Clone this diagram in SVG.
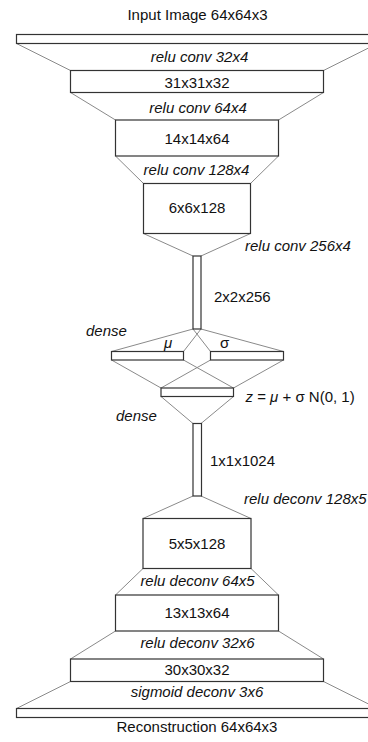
<svg xmlns="http://www.w3.org/2000/svg" width="368" height="742" viewBox="0 0 368 742">
<style>
  .box { fill: #ffffff; stroke: #333333; stroke-width: 1.2; }
  .conn { stroke: #8a8a8a; stroke-width: 1; fill: none; }
  text { font-family: "Liberation Sans", Arial, Helvetica, sans-serif; font-size: 15px; fill: #111111; }
  .c { text-anchor: middle; }
  .i { font-style: italic; }
</style>
<rect width="368" height="742" fill="#ffffff"/>
<g id="connectors">
  <line class="conn" x1="16.5" y1="43.5" x2="70.5" y2="70.5"/>
  <line class="conn" x1="377.5" y1="43.5" x2="323.5" y2="70.5"/>
  <line class="conn" x1="70.5" y1="92.5" x2="115.5" y2="120"/>
  <line class="conn" x1="323.5" y1="92.5" x2="278.5" y2="120"/>
  <line class="conn" x1="115.5" y1="156" x2="143.5" y2="183.5"/>
  <line class="conn" x1="278.5" y1="156" x2="250.5" y2="183.5"/>
  <line class="conn" x1="143.5" y1="233.5" x2="193" y2="256"/>
  <line class="conn" x1="250.5" y1="233.5" x2="201" y2="256"/>
  <line class="conn" x1="193" y1="329" x2="111.5" y2="351.5"/>
  <line class="conn" x1="201" y1="329" x2="283.5" y2="351.5"/>
  <line class="conn" x1="193" y1="329" x2="210.5" y2="351.5"/>
  <line class="conn" x1="201" y1="329" x2="183.5" y2="351.5"/>
  <line class="conn" x1="111.5" y1="360" x2="161" y2="388"/>
  <line class="conn" x1="283.5" y1="360" x2="233.5" y2="388"/>
  <line class="conn" x1="183.5" y1="360" x2="233.5" y2="388"/>
  <line class="conn" x1="210.5" y1="360" x2="161" y2="388"/>
  <line class="conn" x1="161" y1="396.5" x2="193" y2="423.5"/>
  <line class="conn" x1="233.5" y1="396.5" x2="201" y2="423.5"/>
  <line class="conn" x1="193" y1="496" x2="143" y2="518.5"/>
  <line class="conn" x1="201" y1="496" x2="251" y2="518.5"/>
  <line class="conn" x1="143" y1="568.5" x2="115.5" y2="595"/>
  <line class="conn" x1="251" y1="568.5" x2="278.5" y2="595"/>
  <line class="conn" x1="115.5" y1="631" x2="70.5" y2="659"/>
  <line class="conn" x1="278.5" y1="631" x2="323.5" y2="659"/>
  <line class="conn" x1="70.5" y1="681.5" x2="16.5" y2="708.5"/>
  <line class="conn" x1="323.5" y1="681.5" x2="377.5" y2="708.5"/>
</g>
<g id="input">
  <text class="c" x="197.5" y="19.5">Input Image 64x64x3</text>
  <rect class="box" x="16.5" y="34.5" width="361" height="9"/>
</g>
<g id="l1label"><text class="c i" x="199.5" y="62">relu conv 32x4</text></g>
<g id="box31">
  <rect class="box" x="70.5" y="70.5" width="253" height="22"/>
  <text class="c" x="197" y="87.5">31x31x32</text>
</g>
<g id="l2label"><text class="c i" x="198" y="112.5">relu conv 64x4</text></g>
<g id="box14">
  <rect class="box" x="115.5" y="120" width="163" height="36"/>
  <text class="c" x="197" y="143.5">14x14x64</text>
</g>
<g id="l3label"><text class="c i" x="196.5" y="174.5">relu conv 128x4</text></g>
<g id="box6">
  <rect class="box" x="143.5" y="183.5" width="107" height="50"/>
  <text class="c" x="197" y="212.5">6x6x128</text>
</g>
<g id="l4label"><text class="i" x="245" y="250.5">relu conv 256x4</text></g>
<g id="bar2">
  <rect class="box" x="193" y="256" width="8" height="73"/>
  <text x="214" y="302">2x2x256</text>
</g>
<g id="dense1label"><text class="i" x="86" y="335.5">dense</text></g>
<g id="mu">
  <rect class="box" x="111.5" y="351.5" width="72" height="8.5"/>
  <text class="i" x="164" y="347.5">μ</text>
</g>
<g id="sigma">
  <rect class="box" x="210.5" y="351.5" width="73" height="8.5"/>
  <text x="220" y="347.5">σ</text>
</g>
<g id="z">
  <rect class="box" x="161" y="388" width="72.5" height="8.5"/>
  <text x="245.5" y="401.5"><tspan class="i">z</tspan> = <tspan class="i">μ</tspan> + σ N(0, 1)</text>
</g>
<g id="dense2label"><text class="i" x="116" y="420.5">dense</text></g>
<g id="bar1024">
  <rect class="box" x="193" y="423.5" width="8.5" height="72.5"/>
  <text x="210" y="465.5">1x1x1024</text>
</g>
<g id="d1label"><text class="i" x="244" y="503.5">relu deconv 128x5</text></g>
<g id="box5">
  <rect class="box" x="143" y="518.5" width="108" height="50"/>
  <text class="c" x="197" y="548.5">5x5x128</text>
</g>
<g id="d2label"><text class="c i" x="197.5" y="585.5">relu deconv 64x5</text></g>
<g id="box13">
  <rect class="box" x="115.5" y="595" width="163" height="36"/>
  <text class="c" x="197" y="618">13x13x64</text>
</g>
<g id="d3label"><text class="c i" x="197.5" y="647.5">relu deconv 32x6</text></g>
<g id="box30">
  <rect class="box" x="70.5" y="659" width="253" height="22.5"/>
  <text class="c" x="197" y="675">30x30x32</text>
</g>
<g id="d4label"><text class="c i" x="197" y="696.5">sigmoid deconv 3x6</text></g>
<g id="output">
  <rect class="box" x="16.5" y="708.5" width="361" height="9"/>
  <text class="c" x="197" y="731.5">Reconstruction 64x64x3</text>
</g>
</svg>
